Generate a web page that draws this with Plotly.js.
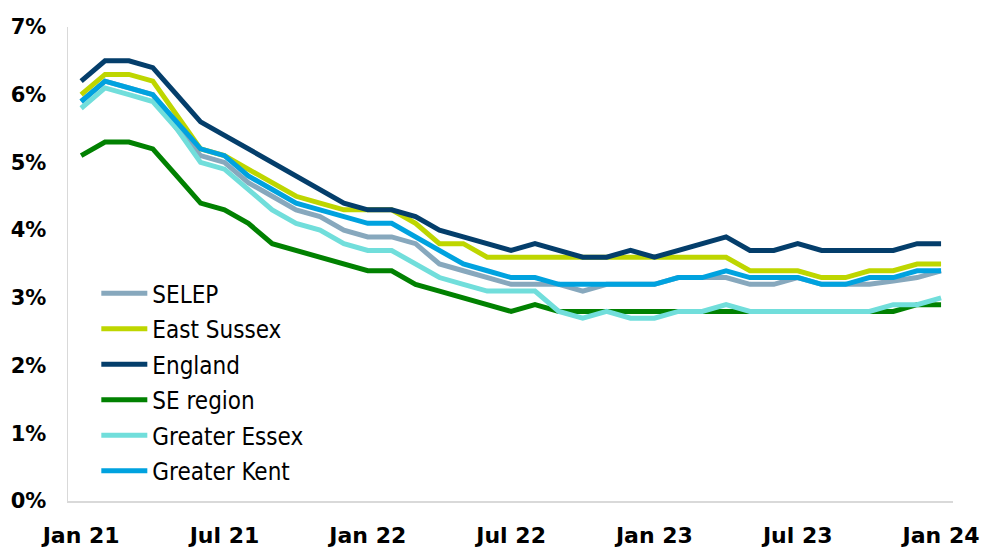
<!DOCTYPE html>
<html>
<head>
<meta charset="utf-8">
<script src="https://cdn.plot.ly/plotly-3.0.1.min.js"></script>
<style>
  html, body { margin: 0; padding: 0; background: #ffffff; }
  #chart { width: 986px; height: 550px; }
</style>
</head>
<body>
<div id="chart"></div>
<script>
// Months, Jan 21 to Jan 24
const months = [
  'Jan 21','Feb 21','Mar 21','Apr 21','May 21','Jun 21','Jul 21','Aug 21','Sep 21','Oct 21','Nov 21','Dec 21',
  'Jan 22','Feb 22','Mar 22','Apr 22','May 22','Jun 22','Jul 22','Aug 22','Sep 22','Oct 22','Nov 22','Dec 22',
  'Jan 23','Feb 23','Mar 23','Apr 23','May 23','Jun 23','Jul 23','Aug 23','Sep 23','Oct 23','Nov 23','Dec 23',
  'Jan 24'
];
const tickLabels = ['Jan 21','Jul 21','Jan 22','Jul 22','Jan 23','Jul 23','Jan 24'];

// Rates (%)
const selep = [5.9,6.2,6.1,6.0,5.5,5.1,5.0,4.7,4.5,4.3,4.2,4.0,
               3.9,3.9,3.8,3.5,3.4,3.3,3.2,3.2,3.2,3.1,3.2,3.2,
               3.2,3.3,3.3,3.3,3.2,3.2,3.3,3.2,3.2,3.2,3.25,3.3,3.4];
const eastSussex = [6.0,6.3,6.3,6.2,5.7,5.2,5.1,4.9,4.7,4.5,4.4,4.3,
                    4.3,4.3,4.1,3.8,3.8,3.6,3.6,3.6,3.6,3.6,3.6,3.6,
                    3.6,3.6,3.6,3.6,3.4,3.4,3.4,3.3,3.3,3.4,3.4,3.5,3.5];
const england = [6.2,6.5,6.5,6.4,6.0,5.6,5.4,5.2,5.0,4.8,4.6,4.4,
                 4.3,4.3,4.2,4.0,3.9,3.8,3.7,3.8,3.7,3.6,3.6,3.7,
                 3.6,3.7,3.8,3.9,3.7,3.7,3.8,3.7,3.7,3.7,3.7,3.8,3.8];
const seRegion = [5.1,5.3,5.3,5.2,4.8,4.4,4.3,4.1,3.8,3.7,3.6,3.5,
                  3.4,3.4,3.2,3.1,3.0,2.9,2.8,2.9,2.8,2.8,2.8,2.8,
                  2.8,2.8,2.8,2.8,2.8,2.8,2.8,2.8,2.8,2.8,2.8,2.9,2.9];
const greaterEssex = [5.8,6.1,6.0,5.9,5.5,5.0,4.9,4.6,4.3,4.1,4.0,3.8,
                      3.7,3.7,3.5,3.3,3.2,3.1,3.1,3.1,2.8,2.7,2.8,2.7,
                      2.7,2.8,2.8,2.9,2.8,2.8,2.8,2.8,2.8,2.8,2.9,2.9,3.0];
const greaterKent = [5.9,6.2,6.1,6.0,5.6,5.2,5.1,4.8,4.6,4.4,4.3,4.2,
                     4.1,4.1,3.9,3.7,3.5,3.4,3.3,3.3,3.2,3.2,3.2,3.2,
                     3.2,3.3,3.3,3.4,3.3,3.3,3.3,3.2,3.2,3.3,3.3,3.4,3.4];

const seriesNames = ['SELEP','East Sussex','England','SE region','Greater Essex','Greater Kent'];
const seriesValues = [selep, eastSussex, england, seRegion, greaterEssex, greaterKent];
const seriesColors = ['#87A8BD','#BED600','#043E6B','#018101','#71DEDB','#00A2DF'];

const traces = seriesNames.map((name, i) => ({
  type: 'scatter',
  mode: 'lines',
  name: name,
  x: months,
  y: seriesValues[i].map(v => v / 100),
  line: { color: seriesColors[i], width: 5, shape: 'linear' },
  legendgroup: 'g' + i,
  hoverinfo: 'x+y+name'
}));

const layout = {
  width: 986,
  height: 550,
  paper_bgcolor: '#ffffff',
  plot_bgcolor: '#ffffff',
  margin: { l: 68, r: 33, t: 27, b: 49 },
  showlegend: true,
  legend: {
    x: 0.032, y: 0.485, xanchor: 'left', yanchor: 'top',
    bgcolor: 'rgba(0,0,0,0)',
    font: { family: 'DejaVu Sans Condensed, DejaVu Sans, sans-serif', size: 24, color: '#000000' },
    tracegroupgap: 1.3,
    itemwidth: 46
  },
  xaxis: {
    type: 'category',
    range: [-0.55, 36.5],
    tickmode: 'array',
    tickvals: tickLabels,
    ticktext: tickLabels,
    showgrid: false,
    zeroline: false,
    showline: true,
    linecolor: '#D9D9D9',
    linewidth: 1.5,
    ticks: '',
    ticklabelstandoff: 14,
    tickfont: { family: 'DejaVu Sans, sans-serif', size: 22, color: '#000000', weight: 'bold' },
    fixedrange: true
  },
  yaxis: {
    range: [0, 0.07],
    tickmode: 'array',
    tickvals: [0,0.01,0.02,0.03,0.04,0.05,0.06,0.07],
    tickformat: '.0%',
    showgrid: false,
    zeroline: false,
    showline: true,
    linecolor: '#D9D9D9',
    linewidth: 1.5,
    ticks: '',
    ticklabelstandoff: 16,
    tickfont: { family: 'DejaVu Sans, sans-serif', size: 21, color: '#000000', weight: 'bold' },
    fixedrange: true
  }
};

Plotly.newPlot('chart', traces, layout, { displayModeBar: false, staticPlot: true });
</script>
</body>
</html>
